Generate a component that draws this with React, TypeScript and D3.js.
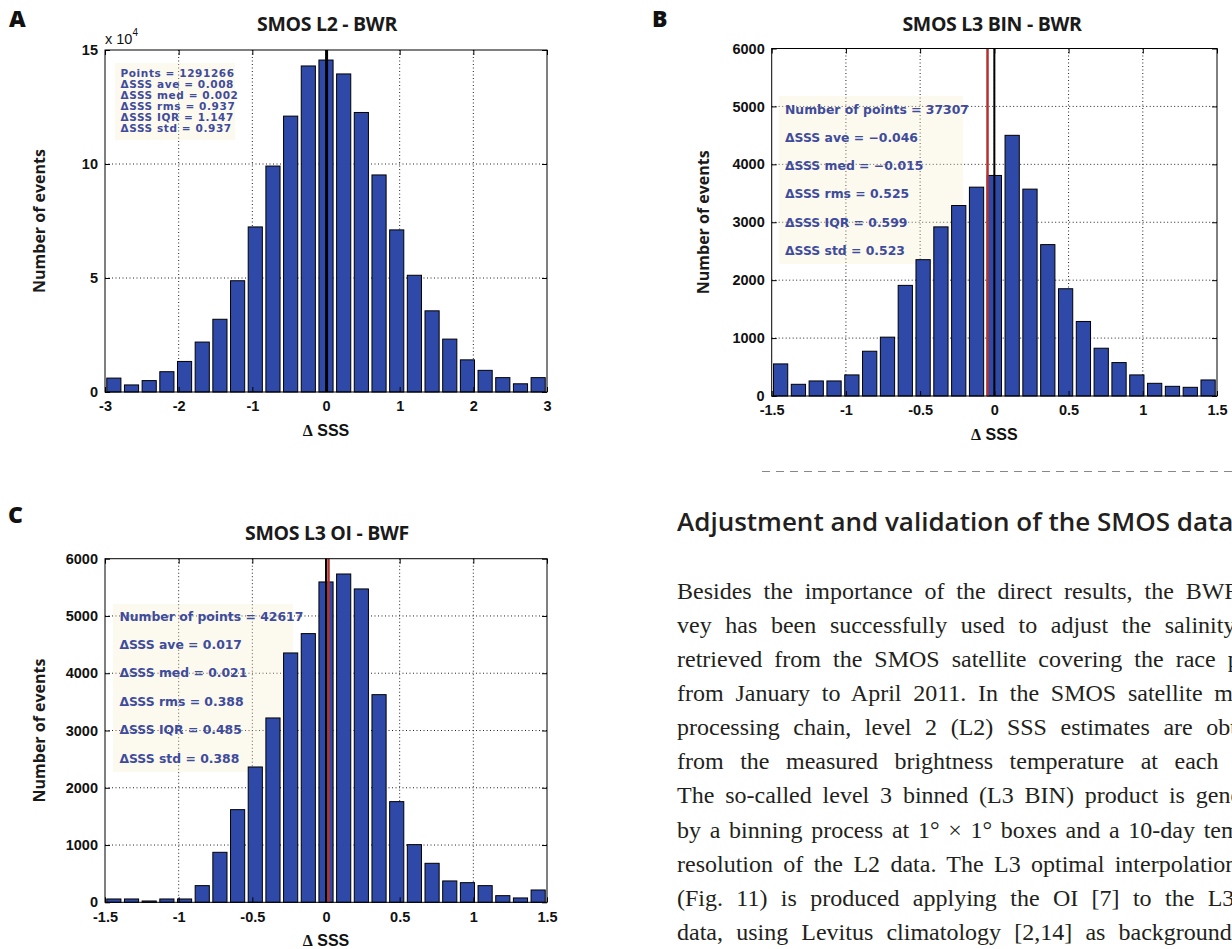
import { useEffect, useRef } from 'react';
import * as d3 from 'd3';

// Bin centres of the ΔSSS histograms
const centresL2 = [-2.88, -2.64, -2.4, -2.16, -1.92, -1.68, -1.44, -1.2, -0.96, -0.72, -0.48, -0.24, 0, 0.24, 0.48, 0.72, 0.96, 1.2, 1.44, 1.68, 1.92, 2.16, 2.4, 2.64, 2.88];
const centresL3 = [-1.44, -1.32, -1.2, -1.08, -0.96, -0.84, -0.72, -0.6, -0.48, -0.36, -0.24, -0.12, 0, 0.12, 0.24, 0.36, 0.48, 0.6, 0.72, 0.84, 0.96, 1.08, 1.2, 1.32, 1.44];

// Number of events per bin (L2 is in units of 10^4)
const countsL2 = [0.61, 0.31, 0.5, 0.89, 1.34, 2.19, 3.19, 4.88, 7.24, 9.91, 12.1, 14.3, 14.56, 13.95, 12.26, 9.52, 7.11, 5.12, 3.56, 2.32, 1.41, 0.95, 0.63, 0.36, 0.63];
const countsL3Bin = [554, 202, 260, 260, 364, 773, 1016, 1910, 2354, 2920, 3289, 3606, 3808, 4501, 3572, 2614, 1852, 1287, 825, 577, 364, 219, 167, 150, 277];
const countsL3Oi = [58, 58, 23, 58, 58, 291, 873, 1618, 2363, 3219, 4354, 4692, 5594, 5733, 5472, 3626, 1758, 1007, 681, 373, 343, 291, 116, 76, 215];

const xTicksL2 = [-3, -2, -1, 0, 1, 2, 3];
const xTicksL3 = [-1.5, -1, -0.5, 0, 0.5, 1, 1.5];
const yTicksL2 = [0, 5, 10, 15];
const yTicksL3 = [0, 1000, 2000, 3000, 4000, 5000, 6000];

const statsL2 = ['Points = 1291266', 'ΔSSS ave = 0.008', 'ΔSSS med = 0.002', 'ΔSSS rms = 0.937', 'ΔSSS IQR = 1.147', 'ΔSSS std = 0.937'];
const statsL3Bin = ['Number of points = 37307', 'ΔSSS ave = −0.046', 'ΔSSS med = −0.015', 'ΔSSS rms = 0.525', 'ΔSSS IQR = 0.599', 'ΔSSS std = 0.523'];
const statsL3Oi = ['Number of points = 42617', 'ΔSSS ave = 0.017', 'ΔSSS med = 0.021', 'ΔSSS rms = 0.388', 'ΔSSS IQR = 0.485', 'ΔSSS std = 0.388'];

const heading = 'Adjustment and validation of the SMOS data';
const paragraph = [
  'Besides the importance of the direct results, the BWR sur-',
  'vey has been successfully used to adjust the salinity data',
  'retrieved from the SMOS satellite covering the race period',
  'from January to April 2011. In the SMOS satellite mission',
  'processing chain, level 2 (L2) SSS estimates are obtained',
  'from the measured brightness temperature at each pixel.',
  'The so-called level 3 binned (L3 BIN) product is generated',
  'by a binning process at 1° × 1° boxes and a 10-day temporal',
  'resolution of the L2 data. The L3 optimal interpolation (OI)',
  '(Fig. 11) is produced applying the OI [7] to the L3 BIN',
  'data, using Levitus climatology [2,14] as background field',
];

const barBlue = '#2f49a8';
const statBlue = '#3f4b9c';
const refRed = '#b3312e';

const panels = [
  {
    letter: 'A', letterX: 9, letterY: 27,
    title: 'SMOS L2 - BWR', titleX: 327, titleY: 31,
    left: 105, right: 547, top: 50, bottom: 392,
    xDomain: [-3, 3], yMax: 15, xTicks: xTicksL2, yTicks: yTicksL2,
    centres: centresL2, counts: countsL2,
    refs: [{ v: 0.008, color: '#000', w: 3 }],
    stats: statsL2, statsX: 120.5, statsY: 77, statsDy: 11, statsSize: 10.5, statsSpacing: 0.6,
    statsBox: [115, 63, 120, 77],
    yLabelX: 45, exponent: true,
  },
  {
    letter: 'B', letterX: 652, letterY: 27,
    title: 'SMOS L3 BIN - BWR', titleX: 992, titleY: 31,
    left: 771.7, right: 1217, top: 48.5, bottom: 396,
    xDomain: [-1.5, 1.5], yMax: 6000, xTicks: xTicksL3, yTicks: yTicksL3,
    centres: centresL3, counts: countsL3Bin,
    refs: [{ v: 0, color: '#000', w: 2 }, { v: -0.046, color: refRed, w: 2.5 }],
    stats: statsL3Bin, statsX: 785, statsY: 113.5, statsDy: 28.3, statsSize: 12.4, statsSpacing: 0,
    statsBox: [779, 96, 184, 168],
    yLabelX: 709, exponent: false,
  },
  {
    letter: 'C', letterX: 8, letterY: 523,
    title: 'SMOS L3 OI - BWF', titleX: 327, titleY: 540,
    left: 105, right: 547, top: 558.7, bottom: 902.3,
    xDomain: [-1.5, 1.5], yMax: 6000, xTicks: xTicksL3, yTicks: yTicksL3,
    centres: centresL3, counts: countsL3Oi,
    refs: [{ v: 0, color: '#000', w: 2 }, { v: 0.017, color: refRed, w: 2.5 }],
    stats: statsL3Oi, statsX: 119.4, statsY: 620.5, statsDy: 28.4, statsSize: 12.4, statsSpacing: 0,
    statsBox: [113, 604, 180, 168],
    yLabelX: 45, exponent: false,
  },
];

function drawPanel(svg, p) {
  const g = svg.append('g');
  const x = d3.scaleLinear().domain(p.xDomain).range([p.left, p.right]);
  const y = d3.scaleLinear().domain([0, p.yMax]).range([p.bottom, p.top]);
  const binW = p.centres[1] - p.centres[0];

  g.append('rect')
    .attr('x', p.left).attr('y', p.top)
    .attr('width', p.right - p.left).attr('height', p.bottom - p.top)
    .attr('fill', '#fff');

  // dotted grid
  g.selectAll('line.vgrid')
    .data(p.xTicks.slice(1, -1))
    .enter()
    .append('line')
    .attr('x1', (d) => x(d)).attr('x2', (d) => x(d))
    .attr('y1', p.top).attr('y2', p.bottom)
    .attr('stroke', '#222').attr('stroke-width', 1).attr('stroke-dasharray', '1,2.5');
  g.selectAll('line.hgrid')
    .data(p.yTicks.slice(1, -1))
    .enter()
    .append('line')
    .attr('x1', p.left).attr('x2', p.right)
    .attr('y1', (d) => y(d)).attr('y2', (d) => y(d))
    .attr('stroke', '#222').attr('stroke-width', 1).attr('stroke-dasharray', '1,2.5');

  // statistics box
  const [bx, by, bw, bh] = p.statsBox;
  g.append('rect')
    .attr('x', bx).attr('y', by).attr('width', bw).attr('height', bh)
    .attr('fill', '#f5efc8').attr('opacity', 0.3);
  g.selectAll('text.stat')
    .data(p.stats)
    .enter()
    .append('text')
    .attr('x', p.statsX)
    .attr('y', (d, i) => p.statsY + i * p.statsDy)
    .attr('fill', statBlue)
    .style('font-family', '"DejaVu Sans", sans-serif')
    .style('font-weight', 'bold')
    .style('font-size', p.statsSize + 'px')
    .style('letter-spacing', p.statsSpacing + 'px')
    .text((d) => d);

  // bars
  g.selectAll('rect.bar')
    .data(p.counts)
    .enter()
    .append('rect')
    .attr('x', (d, i) => x(p.centres[i] - binW * 0.4))
    .attr('width', x(binW * 0.8) - x(0))
    .attr('y', (d) => y(d))
    .attr('height', (d) => y(0) - y(d))
    .attr('fill', barBlue)
    .attr('stroke', '#000')
    .attr('stroke-width', 1);

  // reference lines
  p.refs.forEach((r) => {
    g.append('line')
      .attr('x1', x(r.v)).attr('x2', x(r.v))
      .attr('y1', p.top).attr('y2', p.bottom)
      .attr('stroke', r.color).attr('stroke-width', r.w);
  });

  // frame
  g.append('rect')
    .attr('x', p.left).attr('y', p.top)
    .attr('width', p.right - p.left).attr('height', p.bottom - p.top)
    .attr('fill', 'none').attr('stroke', '#000').attr('stroke-width', 1);

  const tickFont = (sel) =>
    sel.selectAll('text')
      .style('font-family', '"Liberation Sans", Arial, sans-serif')
      .style('font-weight', 'bold')
      .style('font-size', '14.5px')
      .attr('fill', '#111');

  g.append('g')
    .attr('transform', `translate(0,${p.bottom})`)
    .call(d3.axisBottom(x).tickValues(p.xTicks).tickSizeInner(-5).tickSizeOuter(0).tickPadding(9).tickFormat((d) => String(d)))
    .call((a) => a.select('.domain').remove())
    .call(tickFont);
  g.append('g')
    .attr('transform', `translate(0,${p.top})`)
    .call(d3.axisTop(x).tickValues(p.xTicks).tickSizeInner(-5).tickSizeOuter(0).tickFormat(() => ''))
    .call((a) => a.select('.domain').remove());
  g.append('g')
    .attr('transform', `translate(${p.left},0)`)
    .call(d3.axisLeft(y).tickValues(p.yTicks).tickSizeInner(-5).tickSizeOuter(0).tickPadding(7).tickFormat((d) => String(d)))
    .call((a) => a.select('.domain').remove())
    .call(tickFont);
  g.append('g')
    .attr('transform', `translate(${p.right},0)`)
    .call(d3.axisRight(y).tickValues(p.yTicks).tickSizeInner(-5).tickSizeOuter(0).tickFormat(() => ''))
    .call((a) => a.select('.domain').remove());
  g.selectAll('.tick line').attr('stroke', '#000');

  if (p.exponent) {
    const t = g.append('text')
      .attr('x', p.left).attr('y', p.top - 6.5)
      .style('font-family', '"Liberation Sans", Arial, sans-serif')
      .style('font-size', '14.5px')
      .attr('fill', '#111');
    t.append('tspan').text('x 10');
    t.append('tspan').attr('dy', -8).style('font-size', '10px').text('4');
  }

  // titles and labels
  g.append('text')
    .attr('x', p.letterX).attr('y', p.letterY)
    .style('font-family', '"Open Sans", sans-serif')
    .style('font-weight', 800)
    .style('font-size', '23px')
    .attr('fill', '#111')
    .text(p.letter);
  g.append('text')
    .attr('x', p.titleX).attr('y', p.titleY)
    .attr('text-anchor', 'middle')
    .style('font-family', '"Open Sans", sans-serif')
    .style('font-weight', 700)
    .style('font-size', '19.5px')
    .style('letter-spacing', '-0.3px')
    .attr('fill', '#1a1a1a')
    .text(p.title);
  g.append('text')
    .attr('transform', `translate(${p.yLabelX},${(p.top + p.bottom) / 2}) rotate(-90)`)
    .attr('text-anchor', 'middle')
    .style('font-family', '"Open Sans", sans-serif')
    .style('font-weight', 700)
    .style('font-size', '16px')
    .attr('fill', '#1a1a1a')
    .text('Number of events');
  const xl = g.append('text')
    .attr('x', (p.left + p.right) / 2).attr('y', p.bottom + 44)
    .attr('text-anchor', 'middle')
    .style('font-size', '16px')
    .style('font-weight', 'bold')
    .attr('fill', '#111');
  xl.append('tspan').style('font-family', '"Liberation Serif", serif').text('Δ');
  xl.append('tspan').style('font-family', '"Liberation Sans", Arial, sans-serif').text(' SSS');
}

export default function App() {
  const ref = useRef(null);

  useEffect(() => {
    const svg = d3.select(ref.current);
    svg.selectAll('*').remove();
    svg.append('rect').attr('width', 1232).attr('height', 949).attr('fill', '#fff');

    panels.forEach((p) => drawPanel(svg, p));

    // separator
    svg.append('line')
      .attr('x1', 762).attr('x2', 1232).attr('y1', 471.5).attr('y2', 471.5)
      .attr('stroke', '#888').attr('stroke-width', 1).attr('stroke-dasharray', '8,6');

    // right column text
    const colX = 677;
    const colW = 612;
    svg.append('text')
      .attr('x', colX).attr('y', 530.5)
      .style('font-family', '"Open Sans", sans-serif')
      .style('font-weight', 600)
      .style('font-size', '26px')
      .attr('fill', '#231f20')
      .text(heading);

    const lines = svg.selectAll('text.body')
      .data(paragraph)
      .enter()
      .append('text')
      .attr('class', 'body')
      .attr('x', colX)
      .attr('y', (d, i) => 598.5 + i * 34.15)
      .style('font-family', '"Liberation Serif", serif')
      .style('font-size', '24px')
      .attr('fill', '#231f20')
      .text((d) => d);

    // justify each line by widening word gaps
    lines.each(function (d) {
      const len = this.getComputedTextLength();
      const gaps = d.split(' ').length - 1;
      if (gaps > 0 && len < colW) {
        d3.select(this).style('word-spacing', (colW - len) / gaps + 'px');
      }
    });
  }, []);

  return (
    <svg
      ref={ref}
      width={1232}
      height={949}
      style={{ position: 'absolute', left: 0, top: 0, display: 'block' }}
    ></svg>
  );
}
